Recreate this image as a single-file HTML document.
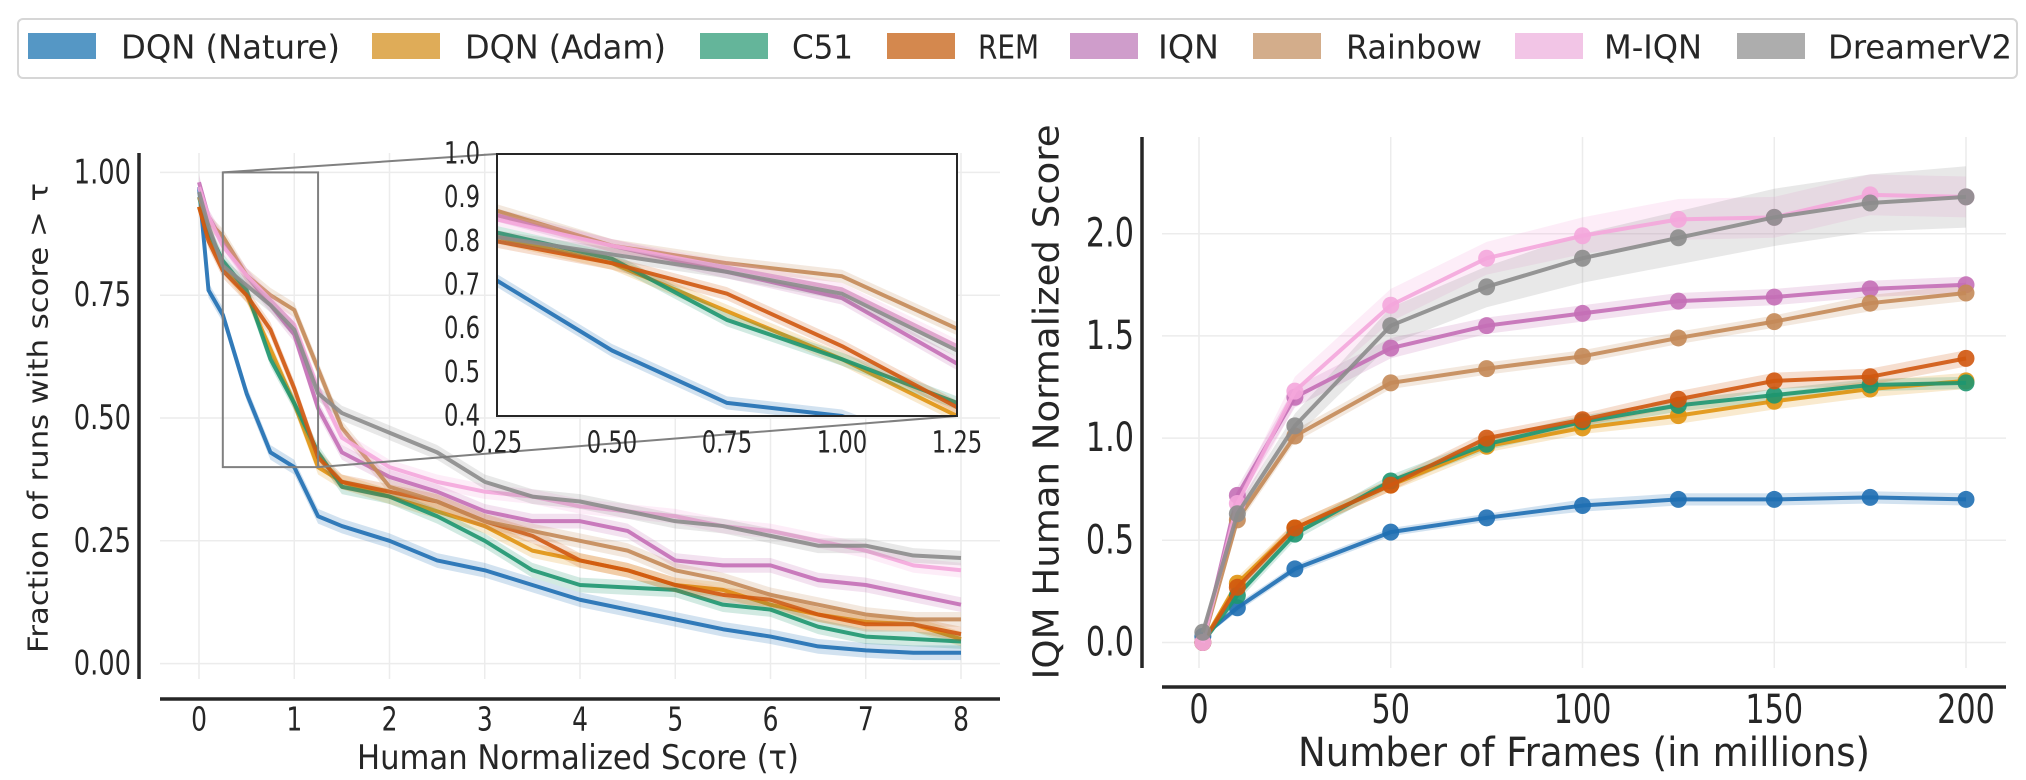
<!DOCTYPE html>
<html><head><meta charset="utf-8"><style>
html,body{margin:0;padding:0;background:#fff;}
svg{display:block;}
text{font-family:"DejaVu Sans Condensed","DejaVu Sans","Liberation Sans",sans-serif;fill:#262626;}
.cond{font-stretch:condensed;}
.norm{font-family:"DejaVu Sans","Liberation Sans",sans-serif;}
</style></head><body>
<svg id="chart" width="2026" height="780" viewBox="0 0 2026 780" xmlns="http://www.w3.org/2000/svg">
<g id="legend">
<rect x="18" y="19" width="1999" height="59" rx="5" fill="#fff" stroke="#d6d6d6" stroke-width="2"/>
</g>
<g id="left"></g>
<g id="right"></g>
</svg>
<script>
const NS='http://www.w3.org/2000/svg';
const names=['DQN (Nature)','DQN (Adam)','C51','REM','IQN','Rainbow','M-IQN','DreamerV2'];
const lineColors=['#1f6fb2','#e0940f','#1e9670','#d0580f','#c46fb6','#c48a58','#f4a6dc','#8c8c8c'];
const patchColors=['#5597c5','#dfac58','#64b59a','#d4884e','#cf9dcb','#d3ad8b','#f2c5e6','#adadad'];
const legendPatchX=[28,372,700,887,1070,1253,1515,1737];
const legendTextX=[121,465,792,978,1158,1346,1604,1828];
const legendTextW=[219,201,61,61,61,136,98,184];

// Left chart data: tau grid and fraction of runs with score > tau
const tau=[0,0.1,0.25,0.5,0.75,1,1.25,1.5,2,2.5,3,3.5,4,4.5,5,5.5,6,6.5,7,7.5,8];
const fracDQNNature=[0.97,0.76,0.71,0.55,0.43,0.40,0.30,0.28,0.25,0.21,0.19,0.16,0.13,0.11,0.09,0.07,0.055,0.035,0.027,0.022,0.022];
const fracDQNAdam=[0.93,0.87,0.81,0.75,0.64,0.53,0.40,0.37,0.34,0.31,0.28,0.23,0.21,0.19,0.16,0.15,0.12,0.10,0.085,0.08,0.05];
const fracC51=[0.95,0.88,0.82,0.76,0.62,0.53,0.43,0.36,0.34,0.30,0.25,0.19,0.16,0.155,0.15,0.12,0.11,0.075,0.055,0.05,0.045];
const fracREM=[0.93,0.86,0.80,0.75,0.68,0.56,0.42,0.37,0.35,0.33,0.29,0.26,0.21,0.19,0.16,0.14,0.13,0.10,0.08,0.08,0.06];
const fracIQN=[0.98,0.91,0.86,0.79,0.73,0.67,0.52,0.43,0.38,0.35,0.31,0.29,0.29,0.27,0.21,0.20,0.20,0.17,0.16,0.14,0.12];
const fracRainbow=[0.95,0.90,0.87,0.79,0.75,0.72,0.60,0.48,0.36,0.33,0.29,0.27,0.25,0.23,0.19,0.17,0.14,0.12,0.10,0.09,0.09];
const fracMIQN=[0.97,0.91,0.85,0.79,0.74,0.69,0.56,0.46,0.40,0.37,0.35,0.34,0.32,0.31,0.30,0.28,0.27,0.25,0.23,0.20,0.19];
const fracDreamerV2=[0.96,0.89,0.81,0.77,0.73,0.68,0.55,0.51,0.47,0.43,0.37,0.34,0.33,0.31,0.29,0.28,0.26,0.24,0.24,0.22,0.215];
const leftXTicks=[0,1,2,3,4,5,6,7,8];
const leftYTicks=[0,0.25,0.5,0.75,1.0];
const leftYTickLabels=['0.00','0.25','0.50','0.75','1.00'];
const insetXTicks=[0.25,0.5,0.75,1.0,1.25];
const insetXTickLabels=['0.25','0.50','0.75','1.00','1.25'];
const insetYTicks=[0.4,0.5,0.6,0.7,0.8,0.9,1.0];

// Right chart data
const frames=[1,10,25,50,75,100,125,150,175,200];
const iqmDQNNature=[0.03,0.17,0.36,0.54,0.61,0.67,0.70,0.70,0.71,0.70];
const iqmDQNAdam=[0.0,0.29,0.56,0.77,0.96,1.05,1.11,1.18,1.24,1.28];
const iqmC51=[0.0,0.23,0.53,0.79,0.97,1.08,1.16,1.21,1.26,1.27];
const iqmREM=[0.0,0.27,0.56,0.77,1.00,1.09,1.19,1.28,1.30,1.39];
const iqmIQN=[0.0,0.72,1.20,1.44,1.55,1.61,1.67,1.69,1.73,1.75];
const iqmRainbow=[0.0,0.60,1.01,1.27,1.34,1.40,1.49,1.57,1.66,1.71];
const iqmMIQN=[0.0,0.68,1.23,1.65,1.88,1.99,2.07,2.08,2.19,2.18];
const iqmDreamerV2=[0.05,0.63,1.06,1.55,1.74,1.88,1.98,2.08,2.15,2.18];
const ciDQNNature=[0.01,0.02,0.02,0.02,0.02,0.03,0.03,0.03,0.03,0.03];
const ciDQNAdam=[0.01,0.03,0.03,0.03,0.03,0.03,0.04,0.04,0.04,0.04];
const ciC51=[0.01,0.03,0.03,0.03,0.03,0.03,0.03,0.03,0.03,0.03];
const ciREM=[0.01,0.03,0.03,0.03,0.03,0.03,0.04,0.04,0.04,0.04];
const ciIQN=[0.01,0.04,0.05,0.05,0.04,0.04,0.04,0.04,0.04,0.04];
const ciRainbow=[0.01,0.03,0.03,0.03,0.03,0.03,0.03,0.03,0.04,0.04];
const ciMIQN=[0.01,0.05,0.07,0.08,0.08,0.09,0.10,0.10,0.10,0.10];
const ciDreamerV2=[0.01,0.04,0.06,0.09,0.10,0.12,0.13,0.14,0.14,0.15];
const rightXTicks=[0,50,100,150,200];
const rightYTicks=[0,0.5,1.0,1.5,2.0];
const rightYTickLabels=['0.0','0.5','1.0','1.5','2.0'];

const leftSeries=[fracDQNNature,fracDQNAdam,fracC51,fracREM,fracIQN,fracRainbow,fracMIQN,fracDreamerV2];
const rightSeries=[iqmDQNNature,iqmDQNAdam,iqmC51,iqmREM,iqmIQN,iqmRainbow,iqmMIQN,iqmDreamerV2];
const rightCI=[ciDQNNature,ciDQNAdam,ciC51,ciREM,ciIQN,ciRainbow,ciMIQN,ciDreamerV2];
const slug=['dqn-nature','dqn-adam','c51','rem','iqn','rainbow','m-iqn','dreamerv2'];

function mk(tag,attrs,parent){const e=document.createElementNS(NS,tag);for(const k in attrs)e.setAttribute(k,attrs[k]);parent.appendChild(e);return e;}
function txt(parent,x,y,s,size,anchor,cls){const t=mk('text',{x:x,y:y,'font-size':size,'text-anchor':anchor||'middle','dominant-baseline':'central'},parent);if(cls)t.setAttribute('class',cls);t.textContent=s;return t;}
function fit(t,w){t.setAttribute('textLength',w);t.setAttribute('lengthAdjust','spacingAndGlyphs');}
const condList=[];

const svg=document.getElementById('chart');
const defs=mk('defs',{},svg);
const cp=mk('clipPath',{id:'insetClip'},defs);
mk('rect',{x:497,y:154,width:460,height:262},cp);

// Legend
const lg=document.getElementById('legend');
for(let i=0;i<names.length;i++){
  const p=mk('rect',{x:legendPatchX[i],y:33,width:68,height:26,fill:patchColors[i]},lg);
  
  
  const t=txt(lg,legendTextX[i],47,names[i],33,'start','cond');
  fit(t,legendTextW[i]);
  
  
}

// Left axes
const lx=v=>199+v*95.25, ly=v=>663.6-v*491.2;
const L=document.getElementById('left');
leftXTicks.forEach(v=>{const g=mk('line',{x1:lx(v),x2:lx(v),y1:153,y2:679,stroke:'#ececec','stroke-width':1.5},L);});
leftYTicks.forEach(v=>{const g=mk('line',{x1:160,x2:1000,y1:ly(v),y2:ly(v),stroke:'#ececec','stroke-width':1.5},L);});
function drawLeft(parent,fx,fy,lw,prefix){
  for(let i=0;i<leftSeries.length;i++){
    const s=leftSeries[i];
    let up='',dn='';
    for(let j=0;j<tau.length;j++){up+=(j?'L':'M')+fx(tau[j])+','+fy(Math.min(1,s[j]+0.015));}
    for(let j=tau.length-1;j>=0;j--){dn+='L'+fx(tau[j])+','+fy(Math.max(0,s[j]-0.015));}
    const b=mk('path',{d:up+dn+'Z',fill:lineColors[i],'fill-opacity':0.2,stroke:'none'},parent);
    
    
    let d='';for(let j=0;j<tau.length;j++)d+=(j?'L':'M')+fx(tau[j])+','+fy(s[j]);
    const l=mk('path',{d:d,fill:'none',stroke:lineColors[i],'stroke-width':lw,'stroke-opacity':0.9,'stroke-linejoin':'round'},parent);
    
    
  }
}
drawLeft(L,lx,ly,4,'');
const ls1=mk('line',{x1:139,x2:139,y1:153,y2:679,stroke:'#262626','stroke-width':3.5},L);
const ls2=mk('line',{x1:160,x2:1000,y1:699,y2:699,stroke:'#262626','stroke-width':3.5},L);
leftXTicks.forEach(v=>{const t=txt(L,lx(v),719,String(v),33,'middle','cond');condList.push(t);});
leftYTicks.forEach((v,k)=>{const t=txt(L,131,ly(v),leftYTickLabels[k],34,'end','cond');condList.push(t);});
const lxl=txt(L,578,758,'Human Normalized Score (τ)',34,'middle','cond');fit(lxl,442);
const lyl=txt(L,0,0,'Fraction of runs with score  > τ',28,'middle','norm');lyl.setAttribute('transform','translate(38,418) rotate(-90)');fit(lyl,470);


const zr=mk('rect',{x:lx(0.25),y:ly(1.0),width:lx(1.25)-lx(0.25),height:ly(0.4)-ly(1.0),fill:'none',stroke:'#808080','stroke-width':2},L);

const c1=mk('line',{x1:lx(0.25),y1:ly(1.0),x2:497,y2:154,stroke:'#808080','stroke-width':2},L);
const c2=mk('line',{x1:lx(1.25),y1:ly(0.4),x2:957,y2:416,stroke:'#808080','stroke-width':2},L);

// inset
const ix=v=>497+(v-0.25)*460, iy=v=>154+(1-v)/0.6*262;
const I=mk('g',{},L);
mk('rect',{x:497,y:154,width:460,height:262,fill:'#fff'},I);
const IC=mk('g',{'clip-path':'url(#insetClip)'},I);
drawLeft(IC,ix,iy,4,'inset-');
const ib=mk('rect',{x:497,y:154,width:460,height:262,fill:'none',stroke:'#262626','stroke-width':2},I);
insetYTicks.forEach(v=>{const t=txt(I,480,iy(v),v.toFixed(1),30,'end','cond');condList.push(t);});
insetXTicks.forEach((v,k)=>{const t=txt(I,ix(v),443,insetXTickLabels[k],30,'middle','cond');condList.push(t);});

// Right axes
const rx=v=>1199+v*3.835, ry=v=>642.5-v*204.4;
const R=document.getElementById('right');
rightXTicks.forEach(v=>{const g=mk('line',{x1:rx(v),x2:rx(v),y1:137,y2:668,stroke:'#ececec','stroke-width':1.5},R);});
rightYTicks.forEach(v=>{const g=mk('line',{x1:1162,x2:2006,y1:ry(v),y2:ry(v),stroke:'#ececec','stroke-width':1.5},R);});
for(let i=0;i<rightSeries.length;i++){
  const s=rightSeries[i],c=rightCI[i];
  let d='';for(let j=0;j<frames.length;j++)d+=(j?'L':'M')+rx(frames[j])+','+ry(s[j]+c[j]);
  for(let j=frames.length-1;j>=0;j--)d+='L'+rx(frames[j])+','+ry(s[j]-c[j]);
  const b=mk('path',{d:d+'Z',fill:lineColors[i],'fill-opacity':0.2},R);
  
  
}
for(let i=0;i<rightSeries.length;i++){
  const s=rightSeries[i];
  let d='';for(let j=0;j<frames.length;j++)d+=(j?'L':'M')+rx(frames[j])+','+ry(s[j]);
  const l=mk('path',{d:d,fill:'none',stroke:lineColors[i],'stroke-width':4,'stroke-opacity':0.9,'stroke-linejoin':'round'},R);
  
  
  for(let j=0;j<frames.length;j++){
    const p=mk('circle',{cx:rx(frames[j]),cy:ry(s[j]),r:8.5,fill:lineColors[i],'fill-opacity':0.9},R);
    
    
  }
}
const rs1=mk('line',{x1:1142,x2:1142,y1:137,y2:668,stroke:'#262626','stroke-width':3.5},R);
const rs2=mk('line',{x1:1162,x2:2006,y1:687,y2:687,stroke:'#262626','stroke-width':3.5},R);
rightXTicks.forEach(v=>{const t=txt(R,rx(v),710,String(v),40,'middle','cond');condList.push(t);});
rightYTicks.forEach((v,k)=>{const t=txt(R,1134,ry(v),rightYTickLabels[k],40,'end','cond');condList.push(t);});
const rxl=txt(R,1584,753,'Number of Frames (in millions)',40,'middle','cond');fit(rxl,572);
const ryl=txt(R,0,0,'IQM Human Normalized Score',36,'middle','norm');ryl.setAttribute('transform','translate(1047,402) rotate(-90)');fit(ryl,555);


// condense tick labels
condList.forEach(t=>{try{const w=t.getComputedTextLength();if(w>0)fit(t,w*0.84);}catch(e){}});
</script>
</body></html>
